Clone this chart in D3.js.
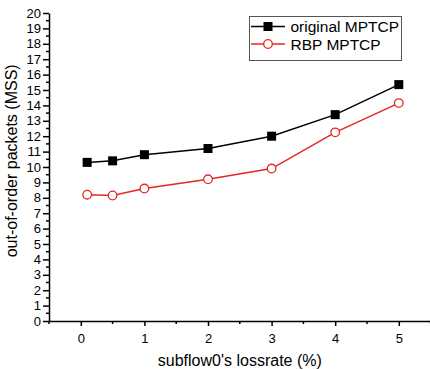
<!DOCTYPE html>
<html lang="en">
<head>
<meta charset="utf-8">
<title>Out-of-order packets vs lossrate</title>
<script src="https://cdnjs.cloudflare.com/ajax/libs/d3/7.8.5/d3.min.js"></script>
<style>
  body { margin: 0; background: #fff; }
  svg { display: block; font-family: "Liberation Sans", Arial, sans-serif; }
  .axis path, .axis line { stroke: #000; stroke-width: 1.5; }
  .axis text { font-size: 13px; fill: #000; }
  .minor line { stroke: #000; stroke-width: 1.5; }
</style>
</head>
<body>
<script>
// data
var lossRate = [0.1, 0.5, 1, 2, 3, 4, 5];
var originalMptcp = [10.3, 10.4, 10.8, 11.2, 12.0, 13.4, 15.35];
var rbpMptcp = [8.2, 8.15, 8.6, 9.2, 9.9, 12.25, 14.15];
var xTicks = [0, 1, 2, 3, 4, 5];
var seriesNames = ["original MPTCP", "RBP MPTCP"];

var w = 430, h = 370;
var plotL = 49, plotR = 430.6, plotT = 13, plotB = 321;

var svg = d3.select("body").append("svg")
  .attr("width", w)
  .attr("height", h);

var x = d3.scaleLinear().domain([-0.5, 5.5]).range([plotL, plotR]);
var y = d3.scaleLinear().domain([0, 20]).range([plotB, plotT]);

// minor ticks first, axes on top
var xMinor = d3.range(-0.5, 5.6, 0.5).filter(function(d) { return d % 1 !== 0; });
var yMinor = d3.range(0.5, 20, 1);

svg.append("g").attr("class", "minor")
  .selectAll("line").data(xMinor).enter().append("line")
  .attr("x1", function(d) { return x(d); })
  .attr("x2", function(d) { return x(d); })
  .attr("y1", plotB).attr("y2", plotB + 3);

svg.append("g").attr("class", "minor")
  .selectAll("line").data(yMinor).enter().append("line")
  .attr("y1", function(d) { return y(d); })
  .attr("y2", function(d) { return y(d); })
  .attr("x1", plotL).attr("x2", plotL - 3);

svg.append("g")
  .attr("class", "axis")
  .attr("transform", "translate(0," + plotB + ")")
  .call(d3.axisBottom(x).tickValues(xTicks).tickFormat(d3.format("d"))
    .tickSizeInner(5).tickSizeOuter(0).tickPadding(8));

svg.append("g")
  .attr("class", "axis")
  .attr("transform", "translate(" + plotL + ",0)")
  .call(d3.axisLeft(y).ticks(20).tickFormat(d3.format("d"))
    .tickSizeInner(6).tickSizeOuter(0).tickPadding(2));

// axis titles
svg.append("text")
  .attr("x", x(2.5)).attr("y", 366)
  .attr("text-anchor", "middle")
  .style("font-size", "16px")
  .text("subflow0's lossrate (%)");

svg.append("text")
  .attr("transform", "translate(17," + y(10.4) + ") rotate(-90)")
  .attr("text-anchor", "middle")
  .style("font-size", "16px")
  .text("out-of-order packets (MSS)");

// lines
var line = d3.line()
  .x(function(d, i) { return x(lossRate[i]); })
  .y(function(d) { return y(d); });

svg.append("path").datum(originalMptcp)
  .attr("d", line)
  .attr("fill", "none").attr("stroke", "#000").attr("stroke-width", 1.5);

svg.append("path").datum(rbpMptcp)
  .attr("d", line)
  .attr("fill", "none").attr("stroke", "#e3291f").attr("stroke-width", 1.5);

svg.selectAll(".sq").data(originalMptcp).enter().append("rect")
  .attr("class", "sq")
  .attr("x", function(d, i) { return x(lossRate[i]) - 4.5; })
  .attr("y", function(d) { return y(d) - 4.5; })
  .attr("width", 9).attr("height", 9)
  .attr("fill", "#000");

svg.selectAll(".ci").data(rbpMptcp).enter().append("circle")
  .attr("class", "ci")
  .attr("cx", function(d, i) { return x(lossRate[i]); })
  .attr("cy", function(d) { return y(d); })
  .attr("r", 4.3)
  .attr("fill", "#fff").attr("stroke", "#e3291f").attr("stroke-width", 1.3);

// legend
var lg = svg.append("g");
lg.append("rect")
  .attr("x", 249.5).attr("y", 16.5).attr("width", 152).attr("height", 44)
  .attr("fill", "#fff").attr("stroke", "#555").attr("stroke-width", 1);

var rows = [26.5, 44];
lg.append("line").attr("x1", 251).attr("x2", 285).attr("y1", rows[0]).attr("y2", rows[0])
  .attr("stroke", "#000").attr("stroke-width", 1.5);
lg.append("rect").attr("x", 268 - 4.5).attr("y", rows[0] - 4.5).attr("width", 9).attr("height", 9)
  .attr("fill", "#000");
lg.append("line").attr("x1", 251).attr("x2", 285).attr("y1", rows[1]).attr("y2", rows[1])
  .attr("stroke", "#e3291f").attr("stroke-width", 1.5);
lg.append("circle").attr("cx", 268).attr("cy", rows[1]).attr("r", 4.3)
  .attr("fill", "#fff").attr("stroke", "#e3291f").attr("stroke-width", 1.3);

lg.selectAll("text.lab").data(seriesNames).enter().append("text")
  .attr("class", "lab")
  .attr("x", 290.5)
  .attr("y", function(d, i) { return rows[i] + 5.5; })
  .style("font-size", "15.5px")
  .text(function(d) { return d; });
</script>
</body>
</html>
